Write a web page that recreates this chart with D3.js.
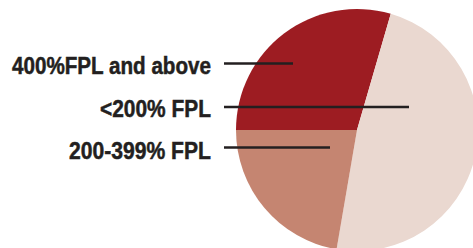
<!DOCTYPE html>
<html><head><meta charset="utf-8">
<script src="https://cdn.jsdelivr.net/npm/d3@7"></script>
<style>html,body{margin:0;padding:0;background:#fff;overflow:hidden}</style>
</head><body>
<svg id="c" width="473" height="248"></svg>
<script>
const categories = ["400%FPL and above", "<200% FPL", "200-399% FPL"];
const values = [29.5, 48.2, 22.3];
const colors = ["#9d1c22", "#ead8d0", "#c58571"];

const svg = d3.select("#c");
const cx = 357, cy = 130, r = 121;

const pie = d3.pie().sort(null).value(d => d)
  .startAngle(-Math.PI / 2).endAngle(1.5 * Math.PI);
const arc = d3.arc().innerRadius(0).outerRadius(r);

svg.append("g").attr("transform", `translate(${cx},${cy})`)
  .selectAll("path").data(pie(values)).join("path")
  .attr("d", arc).attr("fill", (d, i) => colors[i]);

// label layout
const labelY = [74, 117, 159];
const textW = [199, 111, 142];
const lineY = [63.5, 107, 147.5];
const lineEnd = [293, 409, 330];
const textRight = 211, lineStart = 224;

const g = svg.append("g");
categories.forEach((c, i) => {
  g.append("text")
    .attr("x", textRight).attr("y", labelY[i])
    .attr("text-anchor", "end")
    .attr("font-family", "'Liberation Sans Narrow','Liberation Sans',Arial,sans-serif")
    .attr("font-weight", "bold").attr("font-size", 24)
    .attr("fill", "#231f20")
    .attr("stroke", "#231f20").attr("stroke-width", 0.5)
    .attr("textLength", textW[i]).attr("lengthAdjust", "spacingAndGlyphs")
    .text(c);
  g.append("line")
    .attr("x1", lineStart).attr("x2", lineEnd[i])
    .attr("y1", lineY[i]).attr("y2", lineY[i])
    .attr("stroke", "#231f20").attr("stroke-width", 2.6);
});
</script>
</body></html>
